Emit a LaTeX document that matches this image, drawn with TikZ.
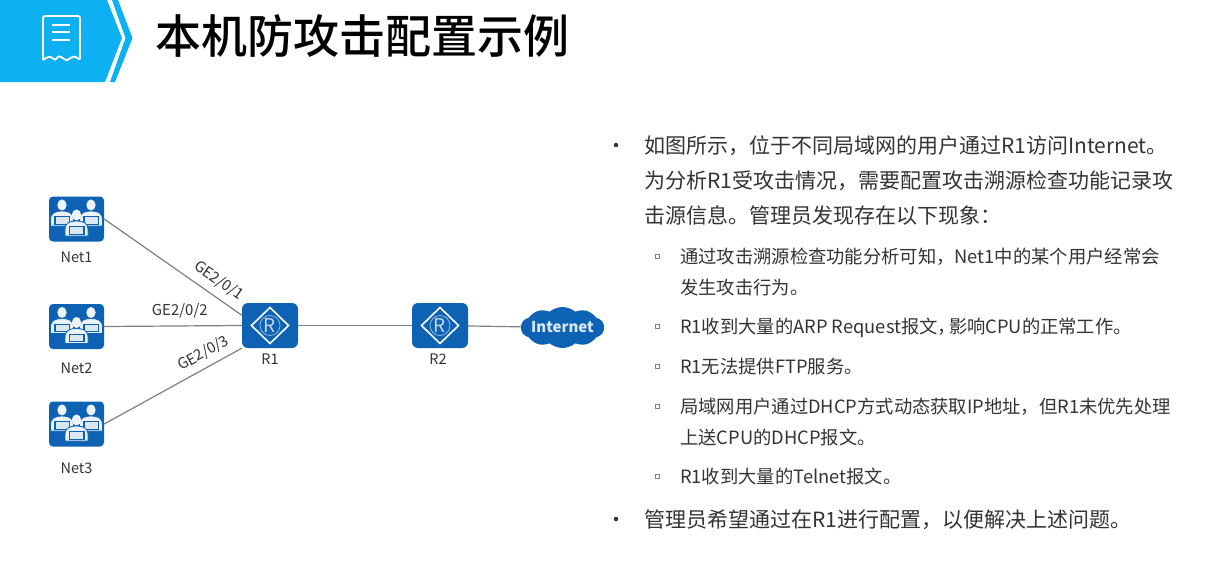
\documentclass[tikz,border=0pt]{standalone}
\usepackage{fontspec}
\setmainfont{Noto Sans CJK SC}
\newfontfamily\titlefont{Noto Sans CJK SC Medium}
\usepackage{xcolor}
\usetikzlibrary{positioning,shapes.symbols,shapes.geometric}
\definecolor{bannerblue}{HTML}{0DB0F0}
\definecolor{iconblue}{HTML}{0D62B4}
\definecolor{linkgray}{HTML}{7F7F7F}
\definecolor{bodygray}{HTML}{333333}

\begin{document}
\begin{tikzpicture}[
  x=1pt, y=-1pt,
  netbox/.style={fill=iconblue, rounded corners=4pt, minimum width=55pt, minimum height=45pt, inner sep=0pt},
  routerbox/.style={fill=iconblue, rounded corners=6pt, minimum width=56pt, minimum height=45pt, inner sep=0pt,
    text=white!75!iconblue, font=\fontsize{19}{20}\selectfont},
  devlabel/.style={font=\fontsize{14.5}{16}\selectfont, text=bodygray, inner sep=0pt},
  linklabel/.style={font=\fontsize{15}{16}\selectfont, text=bodygray, inner sep=1pt, sloped, above=6pt},
  link/.style={draw=linkgray, line width=1.2pt},
  maintext/.style={anchor=north west, align=left, inner sep=0pt, text=bodygray, font=\fontsize{21}{35}\selectfont},
  subtext/.style={anchor=north west, align=left, inner sep=0pt, text=bodygray, font=\fontsize{18.3}{31}\selectfont},
  dotmark/.style={circle, fill=bodygray, inner sep=0pt, minimum size=4.5pt},
  submark/.style={rectangle, draw=linkgray, line width=.6pt, inner sep=0pt, minimum size=4pt}
]
\useasboundingbox (0,0) rectangle (1210,576);

% banner
\fill[bannerblue] (0,0) -- (107,0) -- (122,38) -- (105,82) -- (0,82) -- cycle;
\fill[bannerblue] (112,0) -- (118,0) -- (132.5,38) -- (115,82) -- (110,82) -- (125.5,38) -- cycle;
\draw[white, line width=1.8pt, rounded corners=2pt]
  (43,60) -- (43,16) -- (80,16) -- (80,60) .. controls (75,56) and (73,56) .. (69,59)
  .. controls (66,61) and (63,58) .. (61,57) .. controls (58,56) and (56,60) .. (53,59)
  .. controls (50,56) and (47,57) .. (43,60);
\foreach \ypos in {25,32,40}{
  \draw[white, line width=1.8pt] (52,\ypos) -- (70,\ypos);
}
\node[anchor=west, inner sep=0pt, font=\titlefont\fontsize{46}{50}\selectfont, text=black] (Title) at (155,36) {本机防攻击配置示例};

% devices
\node[netbox] (Net1) at (76.5,219) {};
\node[netbox] (Net2) at (76.5,326.5) {};
\node[netbox] (Net3) at (76.5,424) {};
\node[routerbox] (R1) at (270,325.5) {R};
\node[routerbox] (R2) at (440,325.5) {R};
\node[cloud, cloud puffs=10, cloud puff arc=80, aspect=2.2, fill=iconblue, inner sep=0pt,
  minimum width=83pt, minimum height=41pt] (Internet) at (562.5,327.5) {};
\node[inner sep=0pt, text=white!85!iconblue, font=\fontsize{15}{16}\selectfont\bfseries] (InternetLabel) at (Internet.center) {Internet};

\node[devlabel, below=10pt of Net1] (Net1Label) {Net1};
\node[devlabel, below=13pt of Net2] (Net2Label) {Net2};
\node[devlabel, below=16pt of Net3] (Net3Label) {Net3};
\node[devlabel, below=5pt of R1] (R1Label) {R1};
\node[devlabel, below=5pt of R2, xshift=-2pt] (R2Label) {R2};

% icons
\foreach \n in {R1,R2}{
  \draw[white, line width=1.6pt] ([xshift=-18.5pt]\n.center) -- ([yshift=-18pt]\n.center)
    -- ([xshift=18.5pt]\n.center) -- ([yshift=18pt]\n.center) -- cycle;
  \draw[white!55!iconblue, line width=.8pt] (\n.center) circle (10pt);
}
\foreach \n in {Net1,Net2,Net3}{
  \begin{scope}[shift={(\n.center)}]
    \foreach \px/\py in {-14.5/-14,14.5/-14,0/-4}{
      \begin{scope}[shift={(\px,\py)}]
        \fill[white!92!iconblue] (0,0) ellipse (4.6pt and 5.6pt);
        \path[fill=white!92!iconblue, draw=iconblue, line width=.8pt] (-11.5,15) .. controls (-11.5,8) and (-7,6) .. (0,6)
          .. controls (7,6) and (11.5,8) .. (11.5,15) -- (11.5,21) -- (-11.5,21) -- cycle;
        \fill[iconblue] (-8,11) rectangle (8,19.5);
        \fill[white!85!iconblue] (-6.5,12) rectangle (6.5,18.5);
      \end{scope}
    }
  \end{scope}
}

% links
\draw[link] (Net1.east) -- node[linklabel, pos=.77] (L1) {GE2/0/1} (R1.160);
\draw[link] (Net2.east) -- node[linklabel, pos=.55] (L2) {GE2/0/2} (R1.west);
\draw[link] (Net3.east) -- node[linklabel, pos=.77, above=5pt] (L3) {GE2/0/3} (R1.south west);
\draw[link] (R1) -- (R2);
\draw[link] (R2) -- (Internet);

% text
\node[dotmark] (D1) at (616,145) {};
\node[maintext] (T1) at (644,135.5) {如图所示，位于不同局域网的用户通过R1访问Internet。\\为分析R1受攻击情况，需要配置攻击溯源检查功能记录攻\\击源信息。管理员发现存在以下现象：};
\node[submark] (S1) at (657,256) {};
\node[subtext] (B1) at (680,247.5) {通过攻击溯源检查功能分析可知，Net1中的某个用户经常会\\发生攻击行为。};
\node[submark] (S2) at (657,326) {};
\node[subtext] (B2) at (680,318) {R1收到大量的ARP Request报文，\hspace{-7pt}影响CPU的正常工作。};
\node[submark] (S3) at (657,366) {};
\node[subtext] (B3) at (680,358) {R1无法提供FTP服务。};
\node[submark] (S4) at (657,406) {};
\node[subtext] (B4) at (680,398) {局域网用户通过DHCP方式动态获取IP地址，但R1未优先处理\\上送CPU的DHCP报文。};
\node[submark] (S5) at (657,476) {};
\node[subtext] (B5) at (680,468) {R1收到大量的Telnet报文。};
\node[dotmark] (D2) at (616,519) {};
\node[maintext] (T2) at (644,509.5) {管理员希望通过在R1进行配置，以便解决上述问题。};
\end{tikzpicture}
\end{document}
